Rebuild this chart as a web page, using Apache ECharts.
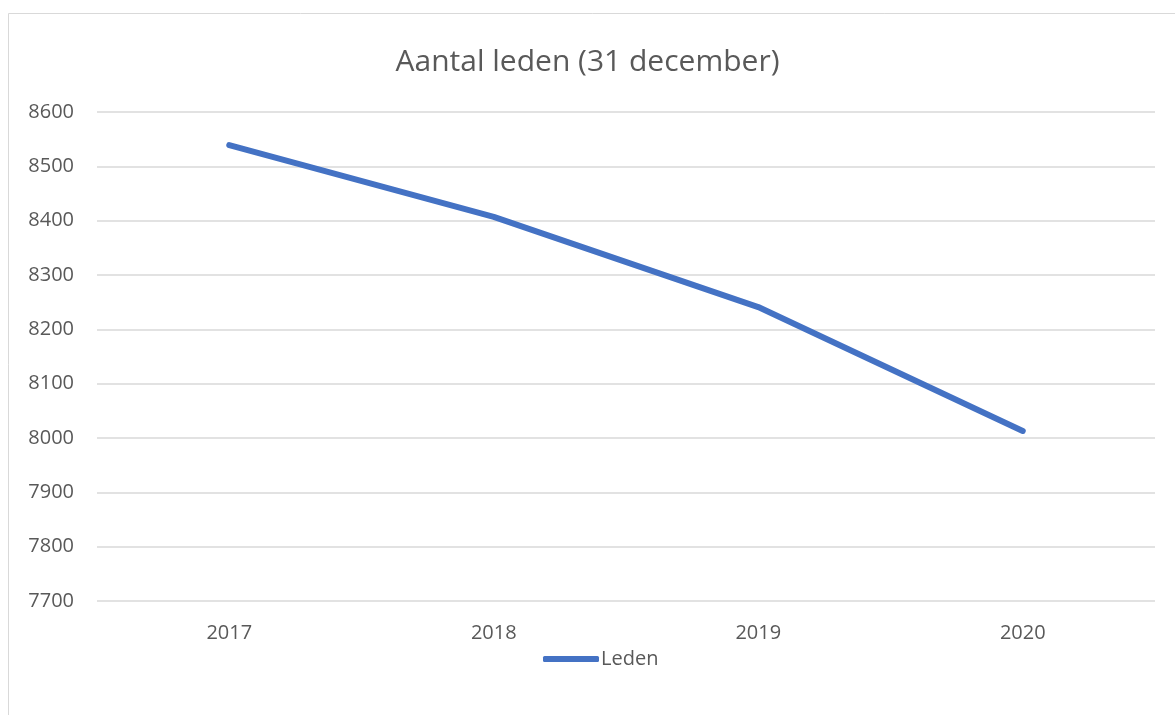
<!DOCTYPE html>
<html>
<head>
<meta charset="utf-8">
<script src="https://cdn.jsdelivr.net/npm/echarts@6/dist/echarts.min.js"></script>
<style>html,body{margin:0;padding:0;background:#fff;}#c{width:1175px;height:715px;}</style>
</head>
<body>
<div id="c"></div>
<script>
const categories = ['2017', '2018', '2019', '2020'];
const leden = [8539, 8407, 8241, 8013];
const seriesName = 'Leden';
const titleText = 'Aantal leden (31 december)';

const FONT = 'Open Sans, Noto Sans, sans-serif';
const chart = echarts.init(document.getElementById('c'));
chart.setOption({
  animation: false,
  backgroundColor: '#fff',
  graphic: [{
    type: 'rect', silent: true,
    shape: { x: 8.5, y: 13.5, width: 1200, height: 750 },
    style: { fill: 'none', stroke: '#d9d9d9', lineWidth: 1 }
  }],
  title: {
    text: titleText, left: 'center', top: 42,
    textStyle: { fontFamily: FONT, fontSize: 30, fontWeight: 'normal', color: '#595959' }
  },
  legend: {
    data: [seriesName], top: 644, left: 538,
    itemWidth: 56, itemHeight: 6, itemGap: 4,
    icon: 'roundRect',
    textStyle: { fontFamily: FONT, fontSize: 20, color: '#595959', padding: [0, 0, 0, -3] }
  },
  grid: { left: 97, right: 20, top: 112, bottom: 114 },
  xAxis: {
    type: 'category', data: categories, boundaryGap: true,
    axisLine: { show: false }, axisTick: { show: false },
    axisLabel: { fontFamily: FONT, fontSize: 20, color: '#595959', margin: 22 }
  },
  yAxis: {
    type: 'value', min: 7700, max: 8600, interval: 100,
    axisLine: { show: false }, axisTick: { show: false },
    splitLine: { lineStyle: { color: '#d9d9d9', width: 1.5 } },
    axisLabel: { fontFamily: FONT, fontSize: 20, color: '#595959', margin: 23, formatter: function (v) { return String(v); } }
  },
  series: [{
    name: seriesName, type: 'line', data: leden,
    showSymbol: false, symbol: 'none',
    lineStyle: { color: '#4472C4', width: 6, cap: 'round', join: 'round' },
    itemStyle: { color: '#4472C4' }
  }]
});
</script>
</body>
</html>
